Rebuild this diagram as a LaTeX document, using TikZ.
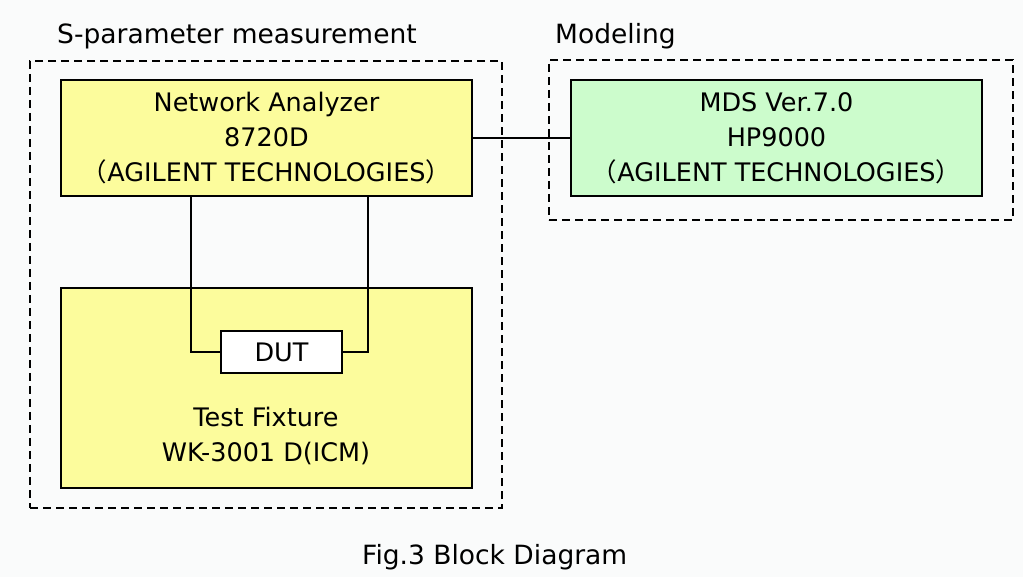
\documentclass[tikz,border=0pt]{standalone}
\usepackage{fontspec}
\setmainfont{DejaVu Sans}
\newfontfamily\cjk{Noto Sans CJK JP}
\newcommand{\lp}{{\cjk （}}
\newcommand{\rp}{{\cjk ）}}
\definecolor{bg}{HTML}{FAFBFB}
\definecolor{yel}{HTML}{FCFC9C}
\definecolor{grn}{HTML}{CCFCCC}
\tikzset{
  box/.style={draw=black, line width=1.8pt, inner sep=0pt, align=center, font=\fontsize{25.5}{35}\selectfont},
  group/.style={draw=black, line width=1.5pt, dash pattern=on 8pt off 5pt},
  wire/.style={draw=black, line width=1.8pt},
  lbl/.style={font=\fontsize{26.5}{30}\selectfont, inner sep=0pt}
}
\begin{document}
\begin{tikzpicture}[x=1pt,y=-1pt]
\useasboundingbox[fill=bg] (0,0) rectangle (1023,577);
% groups
\node[group, minimum width=472pt, minimum height=447pt] (gl) at (266,284.5) {};
\node[group, minimum width=464pt, minimum height=160pt] (gr) at (781,140) {};
\node[lbl, anchor=west] (tl) at (57,36) {S-parameter measurement};
\node[lbl, anchor=west] (tr) at (555,36) {Modeling};
% boxes
\node[box, fill=yel, minimum width=411pt, minimum height=116pt] (na) at (266.5,138)
  {Network Analyzer\\8720D\\\lp AGILENT TECHNOLOGIES\rp};
\node[box, fill=grn, minimum width=411pt, minimum height=116pt] (mds) at (776.5,138)
  {MDS Ver.7.0\\HP9000\\\lp AGILENT TECHNOLOGIES\rp};
\node[box, fill=yel, minimum width=411pt, minimum height=200pt] (tf) at (266.5,388) {};
\node[align=center, inner sep=0pt, font=\fontsize{25.5}{35}\selectfont] (tftxt) at (266,436) {Test Fixture\\WK-3001 D(ICM)};
\node[box, fill=white, minimum width=121pt, minimum height=42pt] (dut) at (281.5,352) {DUT};
% connectors
\draw[wire] (na.east) -- (mds.west);
\coordinate (c1) at (191,196);
\coordinate (c2) at (368,196);
\draw[wire] (c1) |- (dut.west);
\draw[wire] (c2) |- (dut.east);
% caption
\node[lbl, anchor=west] (cap) at (362,557) {Fig.3 Block Diagram};
\end{tikzpicture}
\end{document}
